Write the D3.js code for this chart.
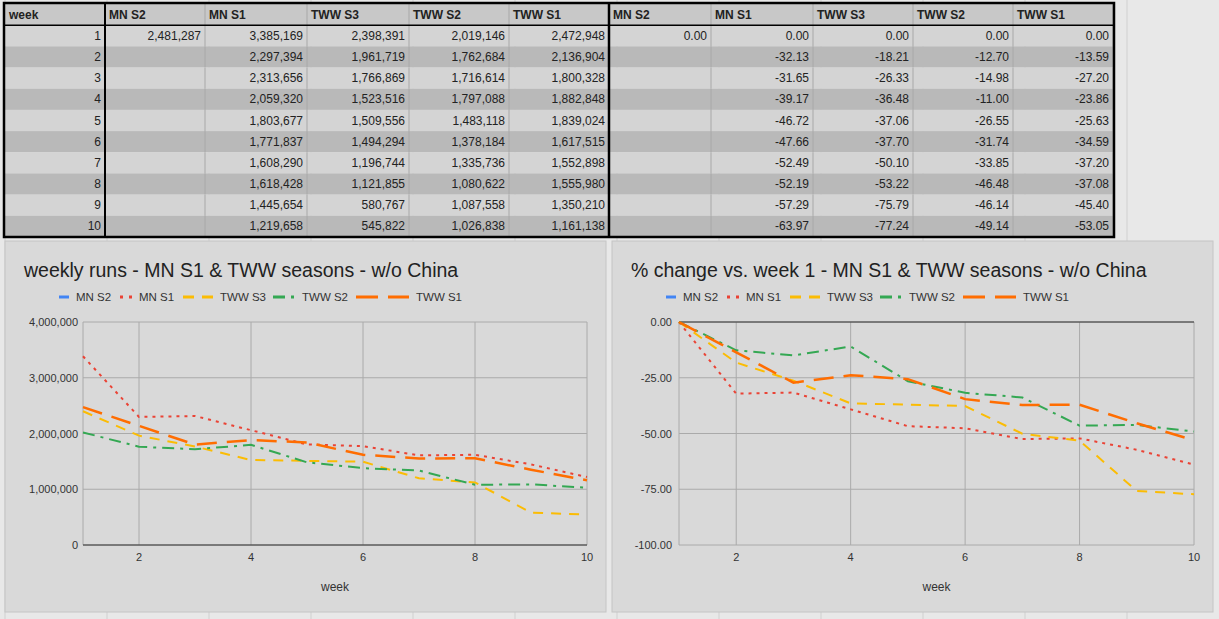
<!DOCTYPE html>
<html><head><meta charset="utf-8">
<script src="https://cdn.jsdelivr.net/npm/d3@7"></script>
<style>body{margin:0;background:#e8e8e8;font-family:Arial,"Liberation Sans",sans-serif}</style>
</head><body><svg id="c" width="1219" height="619"></svg>
<script>
const weeks=[1,2,3,4,5,6,7,8,9,10];
const seriesNames=["MN S2","MN S1","TWW S3","TWW S2","TWW S1"];
const mnS2=[2481287,null,null,null,null,null,null,null,null,null];
const mnS1=[3385169,2297394,2313656,2059320,1803677,1771837,1608290,1618428,1445654,1219658];
const twwS3=[2398391,1961719,1766869,1523516,1509556,1494294,1196744,1121855,580767,545822];
const twwS2=[2019146,1762684,1716614,1797088,1483118,1378184,1335736,1080622,1087558,1026838];
const twwS1=[2472948,2136904,1800328,1882848,1839024,1617515,1552898,1555980,1350210,1161138];
const pctMnS2=[0,null,null,null,null,null,null,null,null,null];
const pctMnS1=[0,-32.13,-31.65,-39.17,-46.72,-47.66,-52.49,-52.19,-57.29,-63.97];
const pctTwwS3=[0,-18.21,-26.33,-36.48,-37.06,-37.70,-50.10,-53.22,-75.79,-77.24];
const pctTwwS2=[0,-12.70,-14.98,-11.00,-26.55,-31.74,-33.85,-46.48,-46.14,-49.14];
const pctTwwS1=[0,-13.59,-27.20,-23.86,-25.63,-34.59,-37.20,-37.08,-45.40,-53.05];
const runTicks=[0,1000000,2000000,3000000,4000000];
const pctTicks=[0,-25,-50,-75,-100];
const xTicks=[2,4,6,8,10];

const colors=["#4285f4","#ea4335","#fbbc04","#34a853","#ff6d01"];
const dashes=[null,"3,5","10,8","12,6,3,6","20,10"];
const widths=[2,2,2,2,2.5];

const svg=d3.select("#c");
for(let x=5;x<1219;x+=102) svg.append("line").attr("x1",x).attr("x2",x).attr("y1",0).attr("y2",619).attr("stroke","#d0d0d0");
const colX=[5,105,205,307,409,509,609,711,813,913,1013,1113];
const hdr=["week",...seriesNames,...seriesNames];
const rowY=d3.scaleLinear().domain([0,11]).range([4,237]);
const fmtR=d3.format(",");
const fmtP=d=>d.toFixed(2);
const raw=[mnS2,mnS1,twwS3,twwS2,twwS1], pct=[pctMnS2,pctMnS1,pctTwwS3,pctTwwS2,pctTwwS1];
const tg=svg.append("g").attr("font-size",12);
for(let r=0;r<11;r++){
  const y0=rowY(r),y1=rowY(r+1);
  tg.append("rect").attr("x",5).attr("y",y0).attr("width",1108).attr("height",y1-y0)
    .attr("fill",r===0?"#c8c8c8":(r%2===1?"#d4d4d4":"#b9b9b9"));
  for(let c=0;c<11;c++){
    tg.append("line").attr("x1",colX[c+1]).attr("x2",colX[c+1]).attr("y1",y0).attr("y2",y1).attr("stroke","#a8a8a8");
    let txt="",bold=false;
    if(r===0){txt=hdr[c];bold=true;}
    else{
      const i=r-1;
      if(c===0) txt=String(weeks[i]);
      else if(c<=5){const v=raw[c-1][i]; txt=v==null?"":fmtR(v);}
      else {const v=pct[c-6][i]; txt=v==null?"":fmtP(v);}
    }
    const t=tg.append("text").attr("y",(y0+y1)/2+4).text(txt).attr("fill","#222");
    if(bold) t.attr("x",colX[c]+4).attr("font-weight","bold");
    else t.attr("x",colX[c+1]-4).attr("text-anchor","end");
  }
}
tg.append("rect").attr("x",4).attr("y",3).attr("width",1110).attr("height",234).attr("fill","none").attr("stroke","#000").attr("stroke-width",2.5);
tg.append("line").attr("x1",105).attr("x2",105).attr("y1",3).attr("y2",237).attr("stroke","#000").attr("stroke-width",2);
tg.append("line").attr("x1",609).attr("x2",609).attr("y1",3).attr("y2",237).attr("stroke","#000").attr("stroke-width",2.5);
tg.append("line").attr("x1",4).attr("x2",1114).attr("y1",rowY(1)).attr("y2",rowY(1)).attr("stroke","#000").attr("stroke-width",1.5);

function chart(px,title,data,ticks,yDom,x1,x2,tickFmt,labelX){
  const g=svg.append("g");
  g.append("rect").attr("x",px).attr("y",241).attr("width",601).attr("height",371).attr("fill","#d9d9d9").attr("stroke","#c4c4c4");
  g.append("text").attr("x",px+19).attr("y",277).attr("font-size",19.5).attr("fill","#222").text(title);
  const x=d3.scaleLinear().domain([1,10]).range([x1,x2]);
  const y=d3.scaleLinear().domain(yDom).range([545,322]);
  g.append("g").selectAll("line").data(ticks).join("line").attr("x1",x1).attr("x2",x2).attr("y1",y).attr("y2",y).attr("stroke","#aaa");
  g.append("g").selectAll("line").data([1,...xTicks]).join("line").attr("x1",x).attr("x2",x).attr("y1",322).attr("y2",545).attr("stroke","#aaa");
  g.append("line").attr("x1",x1).attr("x2",x2).attr("y1",y(0)).attr("y2",y(0)).attr("stroke","#333");
  g.append("g").selectAll("text").data(ticks).join("text").attr("x",labelX).attr("y",d=>y(d)+4).attr("text-anchor","end").attr("font-size",11).attr("fill","#333").text(tickFmt);
  g.append("g").selectAll("text").data(xTicks).join("text").attr("x",x).attr("y",561).attr("text-anchor","middle").attr("font-size",11).attr("fill","#333").text(d=>d);
  g.append("text").attr("x",(x1+x2)/2).attr("y",591).attr("text-anchor","middle").attr("font-size",12).attr("fill","#333").text("week");
  const line=d3.line().defined(d=>d!=null).x((d,i)=>x(weeks[i])).y(d=>y(d));
  data.forEach((s,k)=>{
    if(s.filter(v=>v!=null).length<2) return;
    g.append("path").attr("d",line(s)).attr("fill","none").attr("stroke",colors[k]).attr("stroke-width",widths[k]).attr("stroke-dasharray",dashes[k]);
  });
  const lx=[px+54,px+115,px+178,px+268,px+351];
  const lw=[10,12,30,22,53];
  seriesNames.forEach((n,k)=>{
    const w=lw[k];
    g.append("line").attr("x1",lx[k]).attr("x2",lx[k]+w).attr("y1",297).attr("y2",297).attr("stroke",colors[k]).attr("stroke-width",3).attr("stroke-dasharray",k===1?"3,6":k===2?"11,8":k===3?"12,6,3,6":k===4?"22,10":null);
    g.append("text").attr("x",lx[k]+w+7).attr("y",301).attr("font-size",11.5).attr("fill","#333").text(n);
  });
}
chart(5,"weekly runs - MN S1 & TWW seasons - w/o China",raw,runTicks,[0,4000000],83,587,d=>fmtR(d),78);
chart(612,"% change vs. week 1 - MN S1 & TWW seasons - w/o China",pct,pctTicks,[-100,0],679,1194,d=>d.toFixed(2),672);
</script></body></html>
